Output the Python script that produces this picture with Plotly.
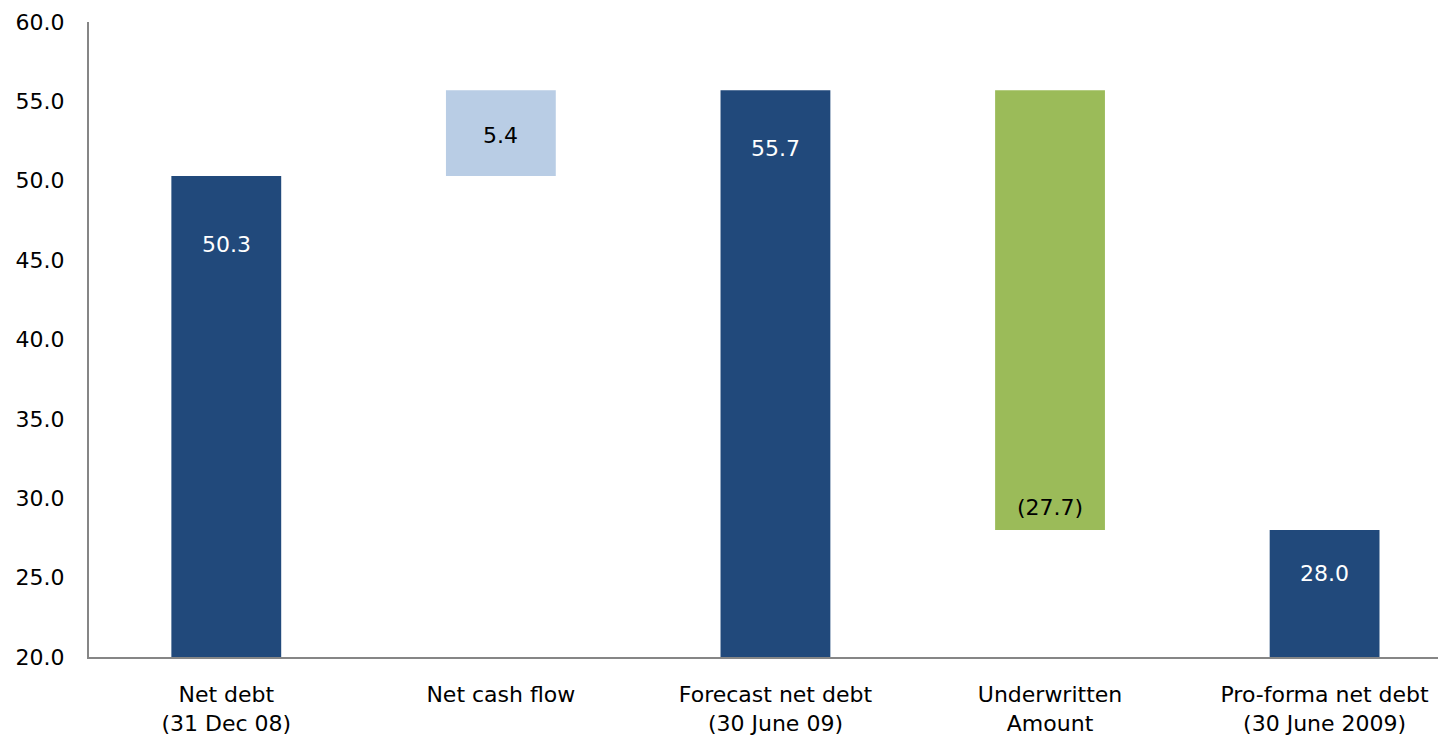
import plotly.graph_objects as go

# Net debt bridge (A$ m)
categories = [
    "Net debt<br>(31 Dec 08)",
    "Net cash flow",
    "Forecast net debt<br>(30 June 09)",
    "Underwritten<br>Amount",
    "Pro-forma net debt<br>(30 June 2009)",
]
values = [50.3, 5.4, 55.7, -27.7, 28.0]
measures = ["total", "delta", "total", "delta", "total"]
y_ticks = [20, 25, 30, 35, 40, 45, 50, 55, 60]

NAVY = "#21497B"
LIGHT = "#B9CDE5"
GREEN = "#9BBB59"

# Running level: totals stand on zero, deltas float on the previous level
bases, tops, colors = [], [], []
level = 0.0
for v, m in zip(values, measures):
    if m == "total":
        bases.append(0.0)
        level = v
        colors.append(NAVY)
    else:
        bases.append(level)
        level = level + v
        colors.append(LIGHT if v >= 0 else GREEN)
    tops.append(level)

fig = go.Figure(
    go.Bar(
        x=categories,
        y=values,
        base=bases,
        width=0.40,
        marker=dict(color=colors, line=dict(width=0)),
        hoverinfo="skip",
    )
)

# Value labels
label_shift = [-69, -2, -58, 23, -43]
font_family = "DejaVu Sans, Arial, Helvetica, sans-serif"
FS = 22
for i, (c, v, m) in enumerate(zip(categories, values, measures)):
    text = f"{v:.1f}" if v >= 0 else f"({abs(v):.1f})"
    if m == "total":
        y = v
        col = "white"
    elif v >= 0:
        y = bases[i] + v / 2
        col = "black"
    else:
        y = bases[i] + v
        col = "black"
    fig.add_annotation(
        x=c, y=y, text=text, showarrow=False, yanchor="middle",
        yshift=label_shift[i], font=dict(size=FS, color=col, family=font_family),
    )

fig.update_layout(
    width=1438,
    height=738,
    margin=dict(l=89, r=0, t=22, b=81),
    paper_bgcolor="white",
    plot_bgcolor="white",
    showlegend=False,
    bargap=0.6,
    font=dict(family=font_family, size=FS, color="black"),
)
fig.update_xaxes(
    type="category",
    range=[-0.5, 4.413],
    showline=True, linecolor="#868686", linewidth=2,
    showgrid=False, ticks="", ticklabelstandoff=17,
    tickfont=dict(size=FS, color="black"),
)
fig.update_yaxes(
    range=[20, 60],
    tickvals=y_ticks,
    ticktext=[f"{t:.1f}" for t in y_ticks],
    showline=True, linecolor="#868686", linewidth=2,
    showgrid=False, zeroline=False, ticks="", ticklabelstandoff=18,
    tickfont=dict(size=FS, color="black"),
)

fig.write_html("out.html")
